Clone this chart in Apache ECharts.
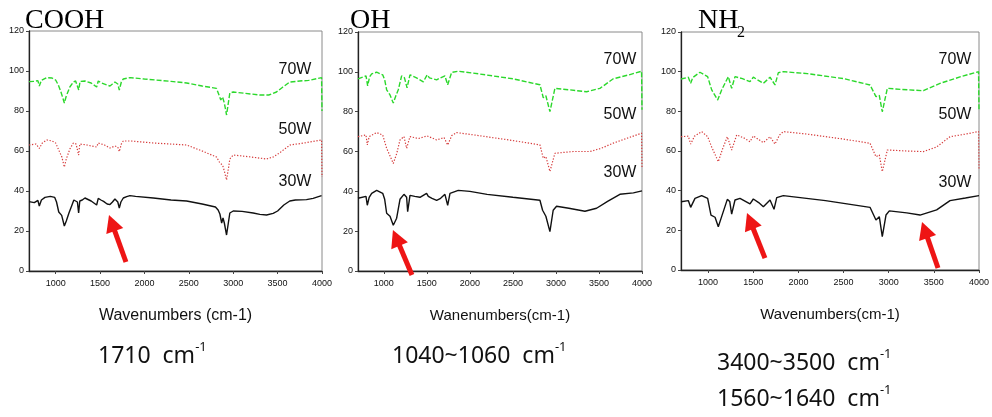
<!DOCTYPE html>
<html><head><meta charset="utf-8">
<script src="https://cdn.jsdelivr.net/npm/echarts@6/dist/echarts.min.js"></script>
<style>html,body{margin:0;padding:0;background:#fff}#c{width:992px;height:417px}</style>
</head><body><div id="c"></div>
<script>
// ---- tick labels ----
const xTicks = [1000, 1500, 2000, 2500, 3000, 3500, 4000];
const yTicks = [0, 20, 40, 60, 80, 100, 120];
const panelTitles = ['COOH', 'OH', 'NH'];
const axisNames = ['Wavenumbers (cm-1)', 'Wanenumbers(cm-1)', 'Wavenumbers(cm-1)'];
const seriesNames = ['70W', '50W', '30W'];

// ---- COOH panel ----
const cooh70 = [[700,94.7],[760,94.8],[800,95.2],[816,92.5],[840,95.3],[900,96.7],[960,96.5],[1000,95.5],[1030,93],[1060,89.5],[1098,84],[1120,87.5],[1160,92],[1200,94.5],[1225,95],[1245,94.5],[1260,90.5],[1275,94.8],[1330,95],[1400,94],[1462,92],[1480,95],[1520,94],[1580,93],[1612,92.5],[1640,93.5],[1668,94.5],[1700,93.5],[1717,90.5],[1740,94.5],[1762,96],[1837,96.7],[2000,96],[2300,94.8],[2475,94],[2650,92.5],[2812,91.3],[2840,88],[2860,85.5],[2880,87],[2900,84],[2925,78],[2945,84],[2962,89],[3000,89.5],[3200,88.5],[3300,88],[3400,88],[3487,89.5],[3560,92],[3637,94.5],[3750,95],[3850,95.3],[3995,96.7],[4000,80]];
const cooh50 = [[700,63],[780,63.5],[816,61.3],[850,64],[900,65.5],[960,65],[1000,64],[1040,60],[1070,57],[1098,52],[1120,56],[1160,61],[1200,64],[1230,63.5],[1259,58],[1272,63.5],[1350,63],[1462,62],[1480,64],[1550,63],[1612,61.5],[1668,62.5],[1700,62],[1717,59.7],[1740,63.5],[1762,65],[1850,65],[2100,64],[2475,63],[2650,60],[2812,57],[2850,54],[2880,53],[2900,50],[2925,45.5],[2945,51],[2962,56],[3000,58],[3200,57],[3375,56],[3450,57],[3520,59],[3640,63],[3800,64],[3995,65.5],[4000,47]];
const cooh30 = [[700,34.7],[760,34.2],[800,35.3],[816,32.5],[840,35.5],[880,36.8],[940,37.3],[990,36.8],[1010,34.5],[1035,29.5],[1068,27.8],[1098,22.5],[1120,25],[1150,29],[1180,32.5],[1205,35.5],[1218,36.5],[1245,34.5],[1259,29],[1272,35],[1300,35.5],[1330,36.5],[1400,35],[1462,33],[1480,36.3],[1510,35.5],[1540,34.8],[1580,33.5],[1612,33.2],[1640,34.5],[1668,36],[1700,34.5],[1717,31.5],[1735,34.5],[1762,36.5],[1800,37.2],[1837,37.7],[1900,37.3],[2100,36.5],[2300,35.5],[2475,35],[2650,33.5],[2800,32],[2830,30.5],[2850,28.5],[2870,24],[2885,26.5],[2900,24],[2925,18],[2945,24],[2962,29],[3000,30],[3100,29.8],[3225,29],[3300,28.3],[3375,28],[3450,28.8],[3500,30],[3570,33],[3637,35],[3700,35.5],[3825,35.7],[3900,36.3],[3995,37.7]];

// ---- OH panel ----
const oh70 = [[700,96.5],[793,98],[812,93],[835,97.5],[859,99],[917,99.8],[987,98.5],[1010,96],[1033,91],[1072,88.4],[1110,84.3],[1140,88],[1168,91],[1207,98],[1240,97],[1270,92],[1304,98.5],[1380,97],[1459,95],[1504,98.5],[1530,97],[1614,96],[1660,97],[1710,98],[1742,93.5],[1788,99.7],[1865,100.3],[2100,99],[2500,96.5],[2814,93.5],[2853,87],[2883,88],[2930,80],[2988,91.7],[3150,91],[3356,90],[3511,91.7],[3666,96.5],[3850,98.5],[3995,100.3],[4000,81]];
const oh50 = [[700,67.5],[793,68.3],[808,63.3],[830,67.5],[917,69.5],[987,68.3],[1033,61.6],[1070,58],[1110,54],[1150,59],[1188,65.8],[1234,67.5],[1265,61.6],[1304,67.5],[1400,66.5],[1504,67.8],[1614,65.8],[1700,67],[1742,63.3],[1790,68],[1846,69.5],[2100,68],[2500,65.5],[2814,63.3],[2853,56.6],[2883,57.5],[2930,50],[2988,59.1],[3200,60],[3395,60],[3520,61.5],[3666,64.2],[3850,67],[3995,69.2],[4000,52]];
const oh30 = [[700,36.5],[793,37.5],[808,33],[830,37],[859,39],[917,40.5],[987,39],[1010,36],[1033,29],[1072,27.5],[1110,23],[1149,26.5],[1188,36],[1234,38.5],[1265,37],[1277,29.8],[1304,38],[1360,37.5],[1420,37],[1497,39],[1517,37.5],[1560,36.5],[1614,35.5],[1660,36.5],[1710,38.5],[1742,33],[1769,39],[1865,40.5],[2000,40],[2200,38.5],[2500,37],[2814,35.5],[2845,30.5],[2883,27.5],[2903,28.5],[2930,19.8],[2968,30.5],[3007,32.5],[3150,31.5],[3337,30],[3472,31.5],[3600,35],[3743,38.5],[3900,39.2],[4000,40.2]];

// ---- NH2 panel ----
const nh70 = [[700,96.3],[781,97.2],[807,94.1],[830,97],[910,99.7],[995,97.5],[1040,90.8],[1106,85.7],[1150,90.8],[1224,97.5],[1261,91.6],[1298,97.5],[1380,96.5],[1464,95],[1501,97.2],[1612,94.1],[1686,97.2],[1741,93.3],[1778,99.5],[1833,100],[2100,99],[2500,96.5],[2793,93.3],[2859,87.4],[2896,88],[2929,79.8],[2985,91.6],[3150,91],[3384,90.4],[3568,94.1],[3800,97.5],[3995,100],[4000,81]];
const nh50 = [[700,67.2],[781,67.5],[807,63.5],[850,67.5],[929,69.8],[995,67.2],[1040,62],[1080,58],[1113,54.6],[1160,61],[1213,67.2],[1261,60.5],[1317,68.1],[1400,66.5],[1464,64.7],[1501,67.6],[1612,64.2],[1686,67.2],[1741,63.5],[1790,68],[1833,69.8],[2100,68.5],[2500,66],[2793,63.9],[2859,57.1],[2896,58],[2929,49.6],[2985,60.5],[3200,60],[3384,59.7],[3530,62],[3679,67.2],[3850,68.5],[3995,69.8],[4000,51]];
const nh30 = [[700,34.4],[781,35],[807,31.6],[855,36.1],[929,37.5],[995,36.1],[1032,27.7],[1077,26.6],[1113,21.8],[1150,26.9],[1213,35.6],[1240,34.5],[1261,28.2],[1298,35.3],[1353,36.1],[1464,33.3],[1501,35.8],[1560,34],[1612,31.9],[1686,35.3],[1730,30.6],[1760,36.5],[1833,37.5],[2300,35],[2793,31.6],[2859,25.2],[2896,26.9],[2929,16.8],[2970,27.7],[3007,29.8],[3200,28.8],[3347,27.7],[3531,30.3],[3679,35],[3850,36.3],[4000,37.5]];

const panelData = [[cooh70, cooh50, cooh30], [oh70, oh50, oh30], [nh70, nh50, nh30]];

// arrow annotations: [tailWave, tailValue, tipWave, tipValue]
const arrowsCooh = [[1792, 4.5, 1601, 28]];
const arrowsOh = [[1327, -2, 1106, 20.6]];
const arrowsNh = [[1630, 6, 1431, 28.7], [3546, 1, 3369, 24.2]];
const panelArrows = [arrowsCooh, arrowsOh, arrowsNh];

const bandTexts = [['1710  cm', '-1'], ['1040~1060  cm', '-1'], ['3400~3500  cm', '-1'], ['1560~1640  cm', '-1']];

// ---- layout ----
const grids = [
  {left: 29, top: 31, width: 293, height: 240},
  {left: 358, top: 32, width: 284, height: 239},
  {left: 681, top: 32, width: 298, height: 238}
];
const styles = [
  {color: '#2bd82b', width: 1.4, type: [5, 2]},
  {color: '#d63c3c', width: 1.2, type: [1.3, 1.7]},
  {color: '#111111', width: 1.4, type: 'solid'}
];

const chart = echarts.init(document.getElementById('c'), null, {renderer: 'canvas'});

const option = {
  animation: false,
  backgroundColor: '#fff',
  grid: grids.map(g => Object.assign({show: true, borderColor: '#8a8a8a', borderWidth: 1, outerBoundsMode: 'none', containLabel: false}, g)),
  xAxis: grids.map((g, i) => ({
    type: 'value', gridIndex: i, min: 700, max: 4000,
    name: axisNames[i], nameLocation: 'middle', nameGap: 37,
    nameTextStyle: {fontSize: i === 0 ? 16 : 15, fontFamily: 'Liberation Sans', color: '#111'},
    axisLine: {show: true, onZero: false, lineStyle: {color: '#222', width: 1.3}},
    axisTick: {show: true, length: 3, customValues: xTicks, lineStyle: {color: '#444'}},
    axisLabel: {customValues: xTicks, fontSize: 9, color: '#111', margin: 8, fontFamily: 'Liberation Sans', formatter: v => String(v)},
    splitLine: {show: false}
  })),
  yAxis: grids.map((g, i) => ({
    type: 'value', gridIndex: i, min: yTicks[0], max: yTicks[yTicks.length - 1], interval: 20,
    axisLine: {show: true, lineStyle: {color: '#222', width: 1.3}},
    axisTick: {show: true, length: 3, lineStyle: {color: '#444'}},
    axisLabel: {fontSize: 9, color: '#111', margin: 5, fontFamily: 'Liberation Sans', formatter: v => String(v)},
    splitLine: {show: false}
  })),
  series: []
};
panelData.forEach((sets, p) => {
  sets.forEach((d, s) => {
    option.series.push({
      type: 'line', name: seriesNames[s] + p, xAxisIndex: p, yAxisIndex: p,
      data: d, showSymbol: false, symbol: 'none', silent: true,
      lineStyle: styles[s], z: 3 + s
    });
  });
});
chart.setOption(option);

// ---- annotations ----
const graphics = [];
const titleX = [25, 350, 698];
titleX.forEach((x, i) => {
  graphics.push({type: 'text', z: 10, style: {text: panelTitles[i], x: x, y: 21, fontSize: 28, fontFamily: 'Liberation Serif', fill: '#000', verticalAlign: 'middle', align: 'left'}});
});
graphics.push({type: 'text', z: 10, style: {text: '2', x: 737, y: 33, fontSize: 16, fontFamily: 'Liberation Serif', fill: '#000', verticalAlign: 'middle', align: 'left'}});

const labelPos = [
  [[295, 70], [295, 130], [295, 182]],
  [[620, 60], [620, 115], [620, 173]],
  [[955, 60], [955, 115], [955, 183]]
];
labelPos.forEach(ps => ps.forEach((pt, s) => {
  graphics.push({type: 'text', z: 10, style: {text: seriesNames[s], x: pt[0], y: pt[1], fontSize: 16, fontFamily: 'Liberation Sans', fill: '#111', align: 'center', verticalAlign: 'middle'}});
}));

panelArrows.forEach((arr, p) => {
  arr.forEach(a => {
    const t0 = chart.convertToPixel({gridIndex: p}, [a[0], a[1]]);
    const t1 = chart.convertToPixel({gridIndex: p}, [a[2], a[3]]);
    const dx = t1[0] - t0[0], dy = t1[1] - t0[1];
    const len = Math.sqrt(dx * dx + dy * dy);
    const ux = dx / len, uy = dy / len;
    const nx = -uy, ny = ux;
    const L = 17, W = 9;
    const bx = t1[0] - ux * L, by = t1[1] - uy * L;
    graphics.push({type: 'line', z: 12, shape: {x1: t0[0], y1: t0[1], x2: bx + ux * 2, y2: by + uy * 2}, style: {stroke: '#ee1515', lineWidth: 5}});
    graphics.push({type: 'polygon', z: 12, shape: {points: [[t1[0], t1[1]], [bx + nx * W, by + ny * W], [bx - nx * W, by - ny * W]]}, style: {fill: '#ee1515'}});
  });
});

const bandPos = [[98, 341], [392, 341], [717, 348], [717, 384]];
bandTexts.forEach((bt, i) => {
  graphics.push({type: 'text', z: 10, style: {
    text: '{a|' + bt[0] + '}{s|' + bt[1] + '}', x: bandPos[i][0], y: bandPos[i][1], align: 'left', verticalAlign: 'top',
    rich: {
      a: {fontSize: 23, fontFamily: 'Noto Sans', lineHeight: 30, fill: '#111', verticalAlign: 'middle'},
      s: {fontSize: 13, fontFamily: 'Noto Sans', lineHeight: 21, fill: '#111', verticalAlign: 'top'}
    }
  }});
});
chart.setOption({graphic: graphics});
</script></body></html>
